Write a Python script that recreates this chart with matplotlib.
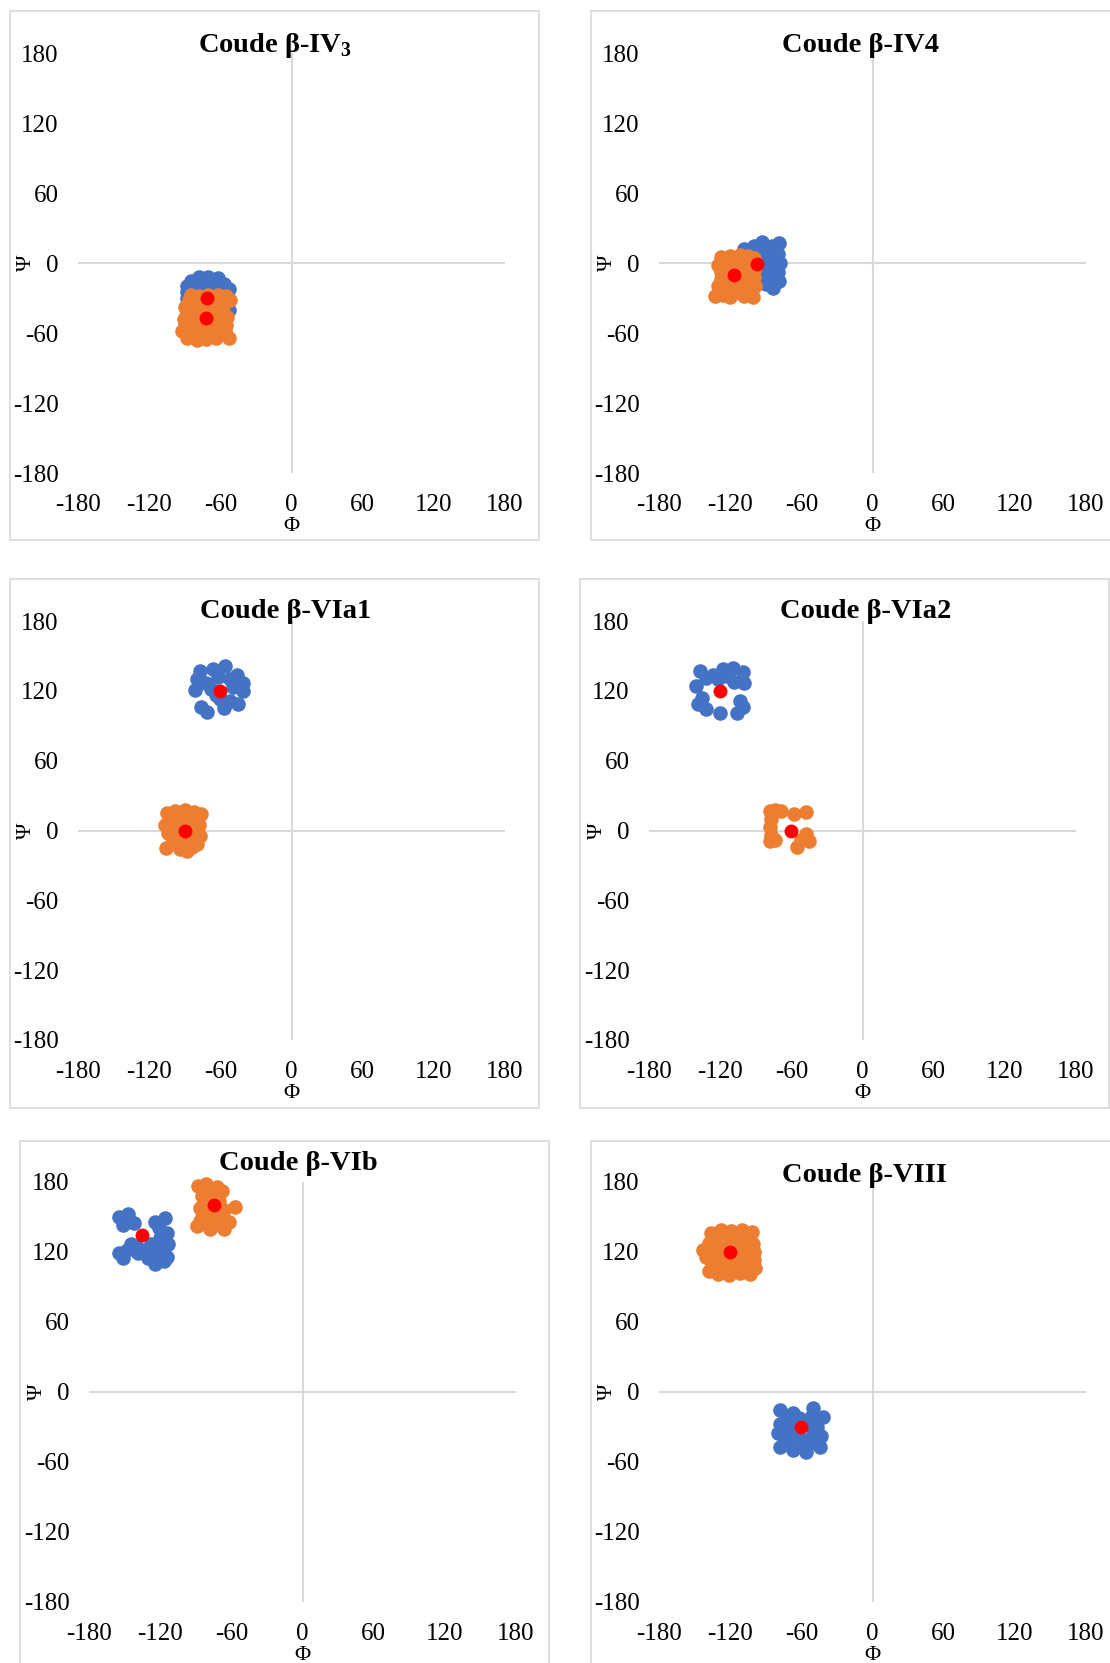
import numpy as np
import matplotlib
matplotlib.use('Agg')
import matplotlib.pyplot as plt
from matplotlib.patches import Rectangle

plt.rcParams['font.family'] = ['Liberation Serif', 'DejaVu Serif']
plt.rcParams['mathtext.fontset'] = 'custom'
plt.rcParams['mathtext.rm'] = 'Liberation Serif'
plt.rcParams['mathtext.bf'] = 'Liberation Serif:bold'

BLUE = '#4472C4'
ORANGE = '#ED7D31'
RED = '#FF0000'
GRID = '#d9d9d9'

ticks = [-180, -120, -60, 0, 60, 120, 180]
tick_labels = ['-180', '-120', '-60', '0', '60', '120', '180']

titles = ['Coude β-IV$_\\mathbf{3}$', 'Coude β-IV4', 'Coude β-VIa1',
          'Coude β-VIa2', 'Coude β-VIb', 'Coude β-VIII']

# (phi, psi) values
iv3_blue = [(-85, -15), (-78, -12), (-70, -12), (-62, -13), (-57, -18), (-53, -22),
            (-88, -20), (-84, -22), (-75, -20), (-66, -21), (-55, -28), (-54, -35),
            (-55, -42), (-60, -45), (-88, -30), (-80, -35), (-88, -25), (-60, -30),
            (-53, -40)]
iv3_orange = [(-85, -27), (-78, -28), (-70, -27), (-62, -27), (-55, -28), (-52, -32),
              (-90, -38), (-83, -35), (-75, -38), (-65, -36), (-58, -38), (-91, -48),
              (-84, -46), (-76, -50), (-66, -48), (-57, -50), (-92, -58), (-85, -56),
              (-78, -60), (-70, -58), (-62, -60), (-56, -57), (-88, -64), (-80, -66),
              (-72, -65), (-64, -64), (-53, -64), (-88, -42), (-80, -42), (-70, -43),
              (-62, -43), (-54, -46), (-90, -52), (-82, -52), (-72, -53), (-64, -53),
              (-55, -53), (-86, -32), (-76, -33), (-68, -32), (-60, -33)]
iv3_mean = [(-71, -30), (-72, -47)]

iv4_blue = [(-108, 12), (-100, 15), (-93, 18), (-85, 15), (-79, 17), (-104, 5),
            (-96, 8), (-88, 6), (-80, 8), (-78, 0), (-88, -2), (-95, -5), (-80, -8),
            (-86, -12), (-79, -15), (-90, -18), (-84, -21), (-96, -15), (-92, 10),
            (-84, 2), (-92, 0), (-82, -4), (-90, -10)]
iv4_orange = [(-128, 5), (-120, 6), (-112, 7), (-105, 6), (-100, 4), (-130, -2),
              (-122, -3), (-108, -2), (-99, -4), (-125, -10), (-110, -10), (-100, -12),
              (-124, -18), (-106, -18), (-99, -20), (-133, -28), (-126, -27),
              (-120, -29), (-108, -28), (-101, -29), (-114, -22), (-116, 0),
              (-128, -8), (-118, -14), (-112, -16), (-104, -8), (-130, -20),
              (-128, -14), (-112, -26), (-104, -24)]
iv4_mean = [(-117, -10), (-97, -1)]

via1_blue = [(-77, 137), (-66, 139), (-56, 141), (-46, 134), (-41, 127), (-41, 120),
             (-81, 121), (-80, 130), (-72, 127), (-62, 132), (-52, 130), (-49, 123),
             (-68, 122), (-60, 113), (-64, 116), (-52, 111), (-45, 109), (-57, 105),
             (-76, 106), (-71, 102)]
via1_orange = [(-105, 15), (-98, 17), (-90, 18), (-82, 16), (-76, 14), (-107, 5),
               (-100, 8), (-92, 10), (-84, 8), (-78, 5), (-104, -2), (-96, 0),
               (-84, -2), (-77, -5), (-100, -8), (-92, -8), (-80, -12), (-106, -15),
               (-94, -16), (-88, -18), (-84, -14), (-88, 4), (-96, -4), (-90, -12),
               (-102, 12), (-86, 12), (-80, 0), (-96, 10), (-100, 2)]
via1_mean = [(-60, 120), (-90, 0)]

via2_blue = [(-137, 137), (-132, 131), (-140, 124), (-118, 139), (-109, 140),
             (-101, 136), (-100, 127), (-122, 130), (-114, 133), (-108, 128),
             (-126, 134), (-135, 114), (-139, 109), (-132, 104), (-120, 101),
             (-103, 111), (-106, 101), (-101, 106)]
via2_orange = [(-78, 17), (-74, 18), (-69, 17), (-77, 10), (-78, 3), (-77, -4),
               (-78, -9), (-74, -8), (-58, 14), (-48, 16), (-48, -3), (-45, -9),
               (-55, -14), (-52, -8)]
via2_mean = [(-120, 120), (-60, 0)]

vib_blue = [(-155, 150), (-147, 153), (-142, 145), (-151, 143), (-124, 146),
            (-116, 149), (-114, 136), (-113, 127), (-114, 116), (-117, 112),
            (-155, 119), (-151, 115), (-145, 127), (-134, 122), (-139, 119),
            (-125, 116), (-128, 127), (-122, 125), (-124, 110), (-120, 132),
            (-148, 122), (-140, 125), (-130, 120), (-118, 120), (-118, 128),
            (-130, 115), (-148, 149), (-121, 141)]
vib_orange = [(-88, 177), (-81, 178), (-72, 176), (-68, 172), (-85, 168), (-78, 166),
              (-70, 164), (-86, 158), (-66, 156), (-57, 159), (-85, 150), (-80, 152),
              (-69, 153), (-62, 146), (-86, 147), (-89, 142), (-78, 140), (-66, 140),
              (-72, 144), (-82, 144), (-84, 172), (-76, 172), (-80, 158), (-74, 150),
              (-80, 147), (-68, 148), (-76, 171)]
vib_mean = [(-135, 135), (-75, 160)]

viii_blue = [(-78, -15), (-67, -18), (-50, -14), (-42, -21), (-78, -27), (-80, -35),
             (-78, -47), (-67, -50), (-56, -51), (-44, -47), (-43, -38), (-47, -30),
             (-56, -27), (-70, -38), (-58, -41), (-66, -30), (-72, -22), (-62, -22),
             (-52, -21), (-74, -42), (-62, -46), (-52, -44), (-50, -36), (-72, -30),
             (-64, -38), (-46, -42)]
viii_orange = [(-136, 136), (-128, 139), (-119, 138), (-110, 139), (-102, 137),
               (-138, 128), (-130, 130), (-112, 129), (-101, 127), (-143, 122),
               (-134, 120), (-126, 123), (-113, 121), (-104, 119), (-100, 113),
               (-136, 112), (-128, 110), (-116, 111), (-108, 112), (-138, 104),
               (-130, 101), (-121, 100), (-112, 102), (-103, 101), (-99, 106),
               (-124, 131), (-106, 128), (-120, 132), (-132, 126), (-116, 126),
               (-108, 134), (-140, 116), (-124, 114), (-116, 117), (-106, 124),
               (-130, 115), (-124, 106), (-116, 105), (-108, 107), (-134, 108),
               (-100, 120), (-110, 116), (-126, 127)]
viii_mean = [(-60, -30), (-120, 120)]

W, H = 1110, 1663
fig = plt.figure(figsize=(W / 100, H / 100), dpi=100, facecolor='white')

# plot areas and frames in pixels: left, top, right, bottom
areas = [(78, 53, 505, 473), (659, 53, 1086, 473),
         (78, 621, 505, 1040), (649, 621, 1076, 1040),
         (89, 1182, 516, 1602), (659, 1182, 1086, 1602)]
frames = [(10, 11, 539, 540), (591, 11, 1120, 540),
          (10, 579, 539, 1108), (580, 579, 1109, 1108),
          (20, 1141, 549, 1670), (591, 1141, 1120, 1670)]
title_pos = [(275, 52), (860, 51.5), (286, 618.5), (866, 618.5), (298, 1170.5), (864, 1181.5)]

series = [(iv3_blue, iv3_orange, iv3_mean), (iv4_blue, iv4_orange, iv4_mean),
          (via1_blue, via1_orange, via1_mean), (via2_blue, via2_orange, via2_mean),
          (vib_blue, vib_orange, vib_mean), (viii_blue, viii_orange, viii_mean)]

for i in range(6):
    l, t, r, b = frames[i]
    fig.patches.append(Rectangle((l / W, 1 - b / H), (r - l) / W, (b - t) / H,
                                 transform=fig.transFigure, fill=False,
                                 edgecolor=GRID, linewidth=1.2, zorder=0))
    l, t, r, b = areas[i]
    ax = fig.add_axes([l / W, 1 - b / H, (r - l) / W, (b - t) / H])
    ax.set_facecolor('none')
    ax.set_xlim(-180, 180)
    ax.set_ylim(-180, 180)
    for s in ax.spines.values():
        s.set_visible(False)
    ax.axhline(0, color=GRID, linewidth=1.5, zorder=1)
    ax.axvline(0, color=GRID, linewidth=1.5, zorder=1)
    ax.set_xticks(ticks)
    ax.set_xticklabels(tick_labels)
    ax.set_yticks(ticks)
    ax.set_yticklabels(tick_labels)
    ax.tick_params(axis='x', length=0, pad=15, labelsize=18)
    ax.tick_params(axis='y', length=0, pad=14, labelsize=18)
    ax.annotate('Φ', xy=(0, -180), xytext=(0, -38.5), textcoords='offset points',
                ha='center', va='center', fontsize=16, annotation_clip=False)
    ax.annotate('Ψ', xy=(-180, 0), xytext=(-37, 0), textcoords='offset points',
                ha='center', va='center', fontsize=16, rotation=90,
                annotation_clip=False)

    blue, orange, mean = series[i]
    bx, by = np.array(blue).T
    ox, oy = np.array(orange).T
    mx, my = np.array(mean).T
    ax.scatter(bx, by, s=110, color=BLUE, linewidths=0, zorder=3, clip_on=False)
    ax.scatter(ox, oy, s=110, color=ORANGE, linewidths=0, zorder=4, clip_on=False)
    ax.scatter(mx, my, s=100, color=RED, linewidths=0, zorder=5, clip_on=False)

    tx, ty = title_pos[i]
    fig.text(tx / W, 1 - ty / H, titles[i], ha='center', va='baseline',
             fontsize=20.5, fontweight='bold')

fig.savefig('out.png', dpi=100, facecolor='white')
